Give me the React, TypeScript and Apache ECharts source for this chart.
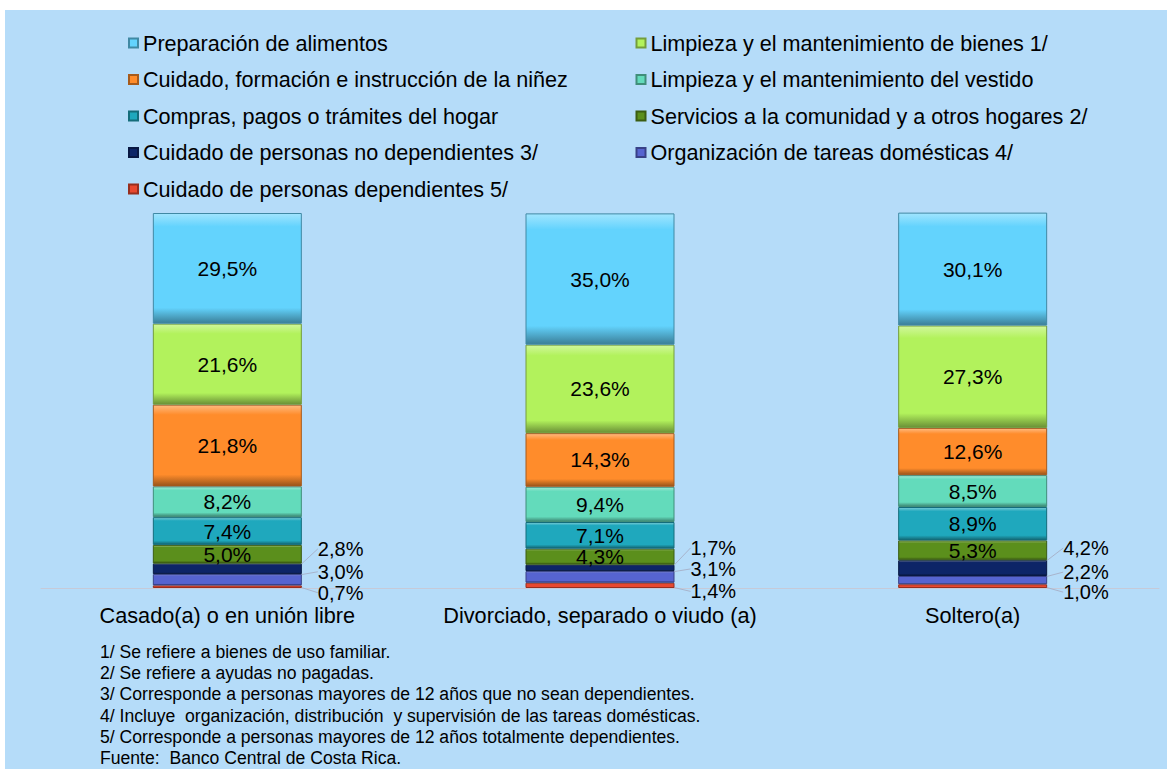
import React, { useEffect, useRef } from "react";
import * as echarts from "echarts";

const categories = [
  "Casado(a) o en unión libre",
  "Divorciado, separado o viudo (a)",
  "Soltero(a)",
];

const seriesNames = [
  "Preparación de alimentos",
  "Limpieza y el mantenimiento de bienes 1/",
  "Cuidado, formación e instrucción de la niñez",
  "Limpieza y el mantenimiento del vestido",
  "Compras, pagos o trámites del hogar",
  "Servicios a la comunidad y a otros hogares 2/",
  "Cuidado de personas no dependientes 3/",
  "Organización de tareas domésticas 4/",
  "Cuidado de personas dependientes 5/",
];

const preparacion = [29.5, 35.0, 30.1];
const limpiezaBienes = [21.6, 23.6, 27.3];
const ninez = [21.8, 14.3, 12.6];
const vestido = [8.2, 9.4, 8.5];
const compras = [7.4, 7.1, 8.9];
const servicios = [5.0, 4.3, 5.3];
const noDependientes = [2.8, 1.7, 4.2];
const organizacion = [3.0, 3.1, 2.2];
const dependientes = [0.7, 1.4, 1.0];

const seriesValues = [
  preparacion,
  limpiezaBienes,
  ninez,
  vestido,
  compras,
  servicios,
  noDependientes,
  organizacion,
  dependientes,
];

const colors = [
  "#63d3fd",
  "#b2f25c",
  "#ff8c2b",
  "#63dbbb",
  "#1fa8bd",
  "#5b8f1c",
  "#0d2567",
  "#5664d0",
  "#e8482f",
];

const footnotes = [
  "1/ Se refiere a bienes de uso familiar.",
  "2/ Se refiere a ayudas no pagadas.",
  "3/ Corresponde a personas mayores de 12 años que no sean dependientes.",
  "4/ Incluye  organización, distribución  y supervisión de las tareas domésticas.",
  "5/ Corresponde a personas mayores de 12 años totalmente dependientes.",
  "Fuente:  Banco Central de Costa Rica.",
];

const FONT = "'Liberation Sans', Arial, sans-serif";

function shade(hex: string, amt: number): string {
  const n = parseInt(hex.slice(1), 16);
  let r = (n >> 16) & 255, g = (n >> 8) & 255, b = n & 255;
  if (amt >= 0) {
    r = Math.round(r + (255 - r) * amt);
    g = Math.round(g + (255 - g) * amt);
    b = Math.round(b + (255 - b) * amt);
  } else {
    r = Math.round(r * (1 + amt));
    g = Math.round(g * (1 + amt));
    b = Math.round(b * (1 + amt));
  }
  return "rgb(" + r + "," + g + "," + b + ")";
}

const fmt = (v: number) => v.toFixed(1).replace(".", ",") + "%";

// outside label vertical shifts for the three smallest series
const outsideDy: Record<number, number> = { 6: -20, 7: -8, 8: 6 };

export default function App() {
  const ref = useRef<HTMLDivElement>(null);
  useEffect(() => {
    if (!ref.current) return;
    const chart = echarts.init(ref.current, undefined, { renderer: "svg" });
    const stackOrder = [8, 7, 6, 5, 4, 3, 2, 1, 0];
    const series = stackOrder.map((i) => {
      const base = colors[i];
      const outside = i >= 6;
      return {
        name: seriesNames[i],
        type: "bar",
        stack: "total",
        barWidth: 149,
        data: seriesValues[i],
        itemStyle: {
          color: new echarts.graphic.LinearGradient(0, 0, 0, 1, [
            { offset: 0, color: shade(base, 0.4) },
            { offset: 0.12, color: base },
            { offset: 0.86, color: base },
            { offset: 1, color: shade(base, -0.4) },
          ]),
          borderColor: shade(base, -0.35),
          borderWidth: 1,
        },
        label: outside
          ? {
              show: true,
              position: "right",
              distance: 16,
              formatter: (p: any) => fmt(p.value),
              fontSize: 20,
              lineHeight: 18,
              fontFamily: FONT,
              color: "#000",
            }
          : {
              show: true,
              position: "inside",
              formatter: (p: any) => fmt(p.value),
              fontSize: 21,
              fontFamily: FONT,
              color: "#000",
            },
        labelLayout: outside ? { dy: outsideDy[i] } : undefined,
        labelLine: outside
          ? { show: true, lineStyle: { color: "#a8b4cc", width: 1 } }
          : undefined,
      };
    });

    const legendText = {
      fontSize: 21.6,
      fontFamily: FONT,
      color: "#000",
      width: 480,
      height: 24,
      lineHeight: 24,
    };

    chart.setOption({
      animation: false,
      backgroundColor: "transparent",
      legend: {
        data: seriesNames.map((n, i) => ({
          name: n,
          itemStyle: { color: colors[i] },
        })),
        left: 123,
        top: 26,
        width: 1030,
        orient: "horizontal",
        icon: "rect",
        itemWidth: 9,
        itemHeight: 9,
        itemGap: 12.5,
        textStyle: legendText,
        selectedMode: false,
      },
      grid: { left: 41, right: 8, top: 213, bottom: 181 },
      xAxis: {
        type: "category",
        data: categories,
        axisLine: { show: true, lineStyle: { color: "#c6cad8", width: 1 } },
        axisTick: { show: false },
        axisLabel: {
          interval: 0,
          hideOverlap: false,
          fontSize: 21.7,
          lineHeight: 20,
          fontFamily: FONT,
          color: "#000",
          margin: 17,
        },
      },
      yAxis: {
        type: "value",
        min: 0,
        max: 100,
        show: false,
        splitLine: { show: false },
      },
      graphic: [
        {
          type: "rect",
          z: -10,
          silent: true,
          shape: { x: 5, y: 10, width: 1162, height: 759 },
          style: { fill: "#b5dcf9" },
        },
        {
          type: "text",
          left: 100,
          top: 641,
          silent: true,
          style: {
            text: footnotes.join("\n"),
            font: "17.6px " + FONT,
            lineHeight: 21.3,
            fill: "#000",
          },
        },
      ],
      series,
    });
    return () => chart.dispose();
  }, []);

  return (
    <div
      ref={ref}
      style={{
        position: "absolute",
        left: 0,
        top: 0,
        width: 1167,
        height: 769,
        background: "#ffffff",
      }}
    />
  );
}
